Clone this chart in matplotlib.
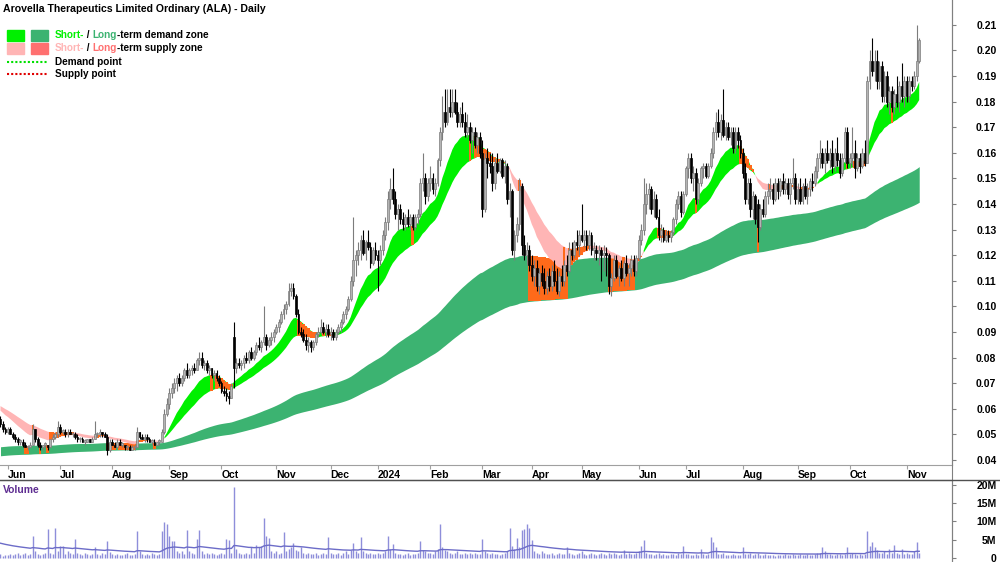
import numpy as np
import matplotlib
matplotlib.use('Agg')
import matplotlib.pyplot as plt
from matplotlib.patches import Rectangle
from matplotlib.lines import Line2D

plt.rcParams['font.family'] = ['Liberation Sans', 'DejaVu Sans']

# ALA daily bars, 29 May 2023 - 8 Nov 2024, prices in tenths of a cent
opens = [56, 54, 52,
    51, 52, 50, 49, 48, 47, 47, 46, 45, 45, 46, 52, 48, 46, 45, 46, 46, 45, 48, 49, 50,
    53, 51, 51, 50, 51, 50, 50, 49, 48, 48, 47, 47, 48, 47, 48, 50, 50, 51, 50, 49, 44,
    47, 46, 45, 47, 46, 46, 45, 45, 44, 45, 45, 51, 49, 48, 49, 48, 47, 47, 46, 47, 47, 51, 58,
    62, 66, 68, 70, 72, 70, 72, 75, 73, 75, 76, 75, 79, 80, 77, 78, 75, 76, 73, 74, 72,
    70, 67, 66, 65, 64, 88, 76, 78, 77, 78, 80, 79, 82, 80, 82, 85, 84, 86, 88, 85, 87, 88,
    90, 92, 94, 97, 99, 101, 106, 107, 104, 97, 90, 89, 87, 85, 86, 84, 86, 89, 90, 92, 90, 91,
    89, 90, 88, 90, 92, 94, 97, 99, 103, 110, 118, 120, 122, 126, 121, 125, 123, 117, 122,
    120, 118, 122, 128, 133, 142, 146, 142, 136, 138, 134, 132, 135, 132, 135, 131, 135, 136, 148, 150, 143,
    148, 150, 146, 148, 157, 168, 176, 172, 178, 176, 180, 176, 172, 175, 172, 168, 170, 165, 168, 163, 166,
    160, 138, 158, 156, 155, 148, 156, 153, 157, 151, 155, 142, 145, 122, 128, 132, 147, 124, 120, 122,
    116, 112, 115, 108, 113, 110, 107, 112, 108, 114, 110, 106, 112, 110, 116, 114, 122, 120, 125, 124,
    128, 126, 128, 124, 128, 122, 122, 121, 122, 120, 121, 120, 108, 111, 118, 112, 115, 111, 117, 113, 115, 118, 114,
    119, 126, 130, 140, 144, 146, 138, 142, 135, 128, 130, 126, 128, 127, 129, 134, 140, 143, 137,
    144, 154, 158, 150, 152, 142, 148, 154, 155, 151, 155, 160, 168, 172, 168, 173, 167, 170, 166, 168, 162, 168, 165,
    160, 152, 142, 148, 138, 143, 140, 131, 138, 136, 143, 145, 146, 142, 148, 145, 149, 146, 148, 144, 148, 150,
    142, 146, 141, 147, 143, 146, 149, 148, 153, 158, 160, 156, 160, 157, 160, 155, 160, 157, 152, 158, 168,
    156, 158, 160, 154, 158, 155, 160, 156, 188, 196, 192, 196, 188, 194, 182, 190, 180, 184, 178, 183, 180, 186, 182,
    188, 182, 188, 186, 190, 196]
highs = [57, 55, 53,
    53, 53, 51, 50, 49, 48, 48, 47, 46, 47, 54, 52, 49, 47, 46, 47, 46, 48, 50, 51, 55,
    54, 52, 52, 52, 52, 51, 51, 50, 49, 49, 48, 48, 48, 49, 55, 51, 52, 51, 51, 50, 48,
    48, 47, 48, 48, 47, 46, 46, 46, 46, 46, 53, 51, 50, 50, 50, 49, 48, 48, 47, 48, 52, 60, 64,
    68, 70, 72, 73, 74, 73, 76, 78, 76, 77, 78, 80, 82, 82, 79, 79, 77, 76, 75, 75, 73,
    71, 69, 68, 67, 70, 94, 80, 80, 79, 81, 82, 83, 84, 83, 86, 88, 87, 100, 89, 88, 90, 91,
    93, 95, 98, 101, 102, 109, 109, 109, 105, 99, 92, 91, 89, 88, 87, 87, 90, 92, 95, 94, 93, 93,
    92, 91, 91, 93, 95, 98, 100, 104, 112, 135, 122, 125, 128, 130, 126, 130, 125, 123, 125,
    122, 124, 130, 135, 145, 150, 154, 145, 140, 140, 137, 136, 138, 136, 136, 136, 138, 150, 160, 152, 150,
    155, 152, 150, 158, 170, 182, 185, 185, 185, 185, 185, 180, 178, 180, 176, 175, 172, 170, 170, 168, 168,
    165, 160, 162, 160, 160, 158, 160, 158, 158, 157, 156, 148, 146, 130, 135, 150, 148, 128, 125, 124,
    120, 118, 118, 115, 116, 115, 114, 115, 116, 118, 115, 114, 116, 118, 120, 125, 125, 126, 130, 130,
    140, 130, 130, 130, 129, 125, 124, 124, 123, 124, 123, 121, 113, 120, 120, 116, 118, 118, 120, 117, 120, 120, 120,
    128, 132, 150, 148, 148, 147, 145, 144, 138, 132, 131, 130, 130, 130, 135, 142, 145, 145, 145,
    155, 160, 160, 155, 154, 150, 155, 156, 156, 156, 162, 170, 176, 177, 175, 185, 172, 172, 170, 170, 170, 170, 167,
    162, 156, 150, 150, 145, 144, 142, 140, 142, 145, 148, 150, 148, 150, 150, 150, 152, 150, 150, 150, 158, 152,
    148, 150, 148, 150, 148, 150, 152, 155, 160, 165, 162, 162, 165, 162, 165, 162, 166, 160, 160, 170, 170,
    160, 170, 165, 160, 160, 162, 165, 190, 200, 205, 200, 200, 196, 196, 192, 192, 186, 186, 185, 190, 188, 195, 190,
    190, 190, 190, 192, 210, 205]
lows = [53, 51, 50,
    50, 50, 48, 47, 46, 46, 45, 45, 44, 45, 46, 47, 45, 44, 44, 45, 44, 45, 47, 48, 49,
    50, 50, 49, 49, 50, 49, 48, 47, 47, 47, 46, 47, 47, 47, 48, 49, 49, 49, 49, 42, 43,
    46, 45, 45, 46, 45, 44, 44, 44, 44, 44, 45, 48, 48, 47, 47, 47, 46, 46, 46, 46, 47, 50, 57,
    60, 64, 66, 67, 69, 69, 71, 72, 72, 73, 74, 75, 77, 76, 75, 74, 73, 72, 71, 71, 69,
    66, 65, 63, 62, 64, 68, 74, 76, 75, 76, 78, 78, 79, 79, 81, 83, 82, 85, 83, 84, 85, 86,
    89, 90, 93, 95, 97, 100, 104, 103, 96, 89, 88, 86, 83, 82, 82, 83, 85, 88, 89, 89, 88, 88,
    87, 87, 87, 89, 90, 93, 95, 98, 102, 108, 112, 116, 118, 120, 118, 122, 115, 116, 118,
    106, 116, 120, 126, 130, 138, 140, 134, 130, 132, 130, 130, 131, 130, 130, 130, 132, 135, 145, 140, 141,
    145, 144, 143, 147, 155, 165, 170, 171, 174, 174, 175, 170, 170, 170, 166, 166, 164, 160, 162, 160, 158,
    135, 137, 150, 152, 145, 146, 152, 152, 150, 148, 140, 135, 120, 118, 125, 130, 120, 118, 116, 114,
    110, 108, 106, 105, 108, 105, 105, 106, 106, 108, 105, 104, 108, 108, 112, 113, 118, 119, 122, 120,
    125, 123, 122, 122, 120, 118, 118, 116, 110, 114, 112, 105, 104, 110, 111, 108, 110, 108, 112, 108, 112, 112, 112,
    118, 124, 128, 136, 138, 136, 135, 134, 126, 125, 125, 125, 125, 125, 128, 132, 138, 135, 136,
    143, 150, 148, 145, 140, 140, 147, 150, 150, 150, 154, 158, 165, 166, 165, 166, 165, 165, 163, 160, 160, 162, 158,
    150, 140, 140, 135, 134, 132, 125, 130, 135, 135, 140, 142, 140, 141, 142, 143, 144, 144, 142, 140, 146, 140,
    140, 140, 140, 142, 140, 143, 145, 147, 150, 154, 154, 152, 156, 154, 152, 153, 155, 150, 151, 156, 154,
    154, 155, 150, 153, 152, 154, 155, 156, 185, 190, 188, 185, 185, 180, 180, 178, 175, 176, 175, 178, 176, 180, 178,
    180, 180, 184, 185, 188, 195]
closes = [54, 52, 51,
    52, 50, 49, 48, 47, 47, 46, 45, 45, 46, 52, 48, 46, 45, 46, 46, 45, 48, 49, 50, 53,
    51, 51, 50, 51, 50, 50, 49, 48, 48, 47, 47, 48, 47, 48, 50, 50, 51, 50, 49, 44, 47,
    46, 45, 47, 46, 46, 45, 45, 44, 45, 45, 51, 49, 48, 49, 48, 47, 47, 46, 47, 47, 51, 58, 62,
    66, 68, 70, 72, 70, 72, 75, 73, 75, 76, 75, 79, 80, 77, 78, 75, 76, 73, 74, 72, 70,
    67, 66, 65, 64, 69, 76, 78, 77, 78, 80, 79, 82, 80, 82, 85, 84, 86, 88, 85, 87, 88, 90,
    92, 94, 97, 99, 101, 106, 107, 104, 97, 90, 89, 87, 85, 86, 84, 86, 89, 90, 92, 90, 91, 89,
    90, 88, 90, 92, 94, 97, 99, 103, 110, 118, 120, 122, 126, 121, 125, 123, 117, 122, 120,
    118, 122, 128, 133, 142, 146, 142, 136, 138, 134, 132, 135, 132, 135, 131, 135, 136, 148, 150, 143, 148,
    150, 146, 148, 157, 168, 176, 172, 178, 176, 180, 176, 172, 175, 172, 168, 170, 165, 168, 163, 166, 160,
    138, 158, 156, 155, 148, 156, 153, 157, 151, 155, 142, 145, 122, 128, 132, 147, 124, 120, 122, 116,
    112, 115, 108, 113, 110, 107, 112, 108, 114, 110, 106, 112, 110, 116, 114, 122, 120, 125, 124, 128,
    126, 128, 124, 128, 122, 122, 121, 122, 120, 121, 120, 108, 111, 118, 112, 115, 111, 117, 113, 115, 118, 114, 119,
    126, 130, 140, 144, 146, 138, 142, 135, 128, 130, 126, 128, 127, 129, 134, 140, 143, 137, 144,
    154, 158, 150, 152, 142, 148, 154, 155, 151, 155, 160, 168, 172, 168, 173, 167, 170, 166, 168, 162, 168, 165, 160,
    152, 142, 148, 138, 143, 134, 131, 138, 136, 143, 145, 146, 142, 148, 145, 149, 146, 148, 144, 148, 150, 142,
    146, 141, 147, 143, 146, 149, 148, 153, 158, 160, 156, 160, 157, 160, 155, 160, 157, 152, 158, 168, 156,
    158, 160, 154, 158, 155, 160, 156, 188, 196, 192, 196, 188, 194, 182, 190, 180, 184, 178, 183, 180, 186, 182, 188,
    182, 188, 186, 190, 196, 204]
# volume in units of 100k shares
volumes = [10, 6, 8,
    9, 12, 7, 10, 15, 8, 11, 14, 9, 10, 60, 18, 12, 8, 10, 14, 79, 15, 10, 81, 20,
    33, 32, 12, 18, 15, 10, 51, 14, 12, 9, 15, 11, 8, 10, 31, 12, 9, 14, 11, 47, 16,
    10, 8, 12, 9, 7, 11, 14, 9, 8, 12, 74, 18, 10, 8, 12, 9, 14, 10, 8, 12, 74, 98, 92,
    60, 47, 47, 20, 15, 18, 12, 77, 20, 15, 12, 53, 77, 18, 12, 15, 10, 14, 12, 9, 11,
    14, 12, 52, 49, 15, 194, 25, 14, 12, 10, 15, 12, 29, 14, 35, 30, 33, 110, 60, 54, 20, 15,
    18, 12, 15, 72, 20, 25, 30, 42, 22, 18, 29, 15, 12, 14, 10, 12, 15, 9, 11, 14, 12, 57,
    15, 10, 12, 14, 9, 15, 18, 12, 22, 40, 20, 15, 57, 18, 14, 12, 15, 10, 12,
    14, 12, 15, 20, 61, 25, 38, 15, 12, 10, 9, 12, 14, 8, 10, 12, 15, 47, 22, 18, 14,
    15, 12, 18, 25, 92, 30, 22, 18, 15, 12, 14, 18, 12, 10, 14, 12, 15, 11, 13, 10, 12,
    51, 20, 15, 12, 14, 10, 12, 9, 11, 14, 18, 81, 33, 25, 54, 30, 77, 79, 92, 81,
    49, 20, 15, 12, 18, 14, 10, 12, 15, 9, 11, 14, 12, 10, 31, 15, 12, 9, 11, 14,
    18, 12, 9, 10, 14, 11, 8, 12, 15, 10, 9, 13, 11, 14, 10, 9, 12, 22, 10, 14, 12, 11, 15,
    20, 33, 49, 15, 12, 10, 9, 12, 14, 8, 10, 9, 7, 10, 12, 9, 14, 11, 33,
    12, 10, 8, 9, 11, 7, 24, 10, 8, 12, 58, 45, 29, 12, 10, 15, 9, 8, 7, 10, 9, 8, 7,
    29, 12, 10, 14, 9, 11, 13, 8, 9, 10, 7, 8, 9, 6, 8, 7, 9, 10, 8, 7, 12, 9,
    8, 10, 7, 9, 11, 8, 9, 12, 15, 14, 31, 18, 12, 10, 9, 8, 10, 12, 9, 10, 29,
    12, 15, 10, 9, 11, 8, 12, 75, 33, 45, 29, 22, 15, 14, 18, 12, 25, 15, 36, 14, 12, 24, 10,
    15, 12, 10, 18, 45, 14]

month_starts = [3, 24, 45, 68, 89, 111, 133, 152, 173, 194, 214, 234, 257, 276, 299, 321, 342, 365]
month_labels = ['Jun', 'Jul', 'Aug', 'Sep', 'Oct', 'Nov', 'Dec', '2024', 'Feb', 'Mar',
                'Apr', 'May', 'Jun', 'Jul', 'Aug', 'Sep', 'Oct', 'Nov']
price_ticks = [0.04, 0.05, 0.06, 0.07, 0.08, 0.09, 0.10, 0.11, 0.12, 0.13,
               0.14, 0.15, 0.16, 0.17, 0.18, 0.19, 0.20, 0.21]
volume_ticks = [0, 5e6, 10e6, 15e6, 20e6]
volume_tick_labels = ['0', '5M', '10M', '15M', '20M']

# zone averages: (span, starting level at the left edge)
short_fast, short_slow = (15, 0.0600), (30, 0.0615)
long_fast, long_slow = (140, 0.0450), (230, 0.0415)
vol_avg = (40, 4.2e6)

GREEN = '#00F000'
DARK_GREEN = '#3CB371'
PINK = '#FFB5B5'
RED = '#FF7070'
ORANGE = '#FF6A1A'

o = np.array(opens) / 1000
h = np.array(highs) / 1000
l = np.array(lows) / 1000
c = np.array(closes) / 1000
v = np.array(volumes) * 1e5
x = np.arange(len(c))
assert len(o) == len(h) == len(l) == len(c) == len(v) == 371


def ema(values, span, start):
    k = 2 / (span + 1)
    out = []
    prev = start
    for val in values:
        prev += k * (val - prev)
        out.append(prev)
    return np.array(out)


W, H = 1000, 562
fig = plt.figure(figsize=(W / 100, H / 100), dpi=100)
ax = fig.add_axes([0, 97 / H, 952 / W, 465 / H])
vax = fig.add_axes([0, 0, 952 / W, 82 / H])


def draw_zone(fast, slow, up_col, down_col, z):
    f = ema(c, *fast)
    s = ema(c, *slow)
    top = np.maximum(f, s)
    bot = np.minimum(f, s)
    up = f >= s
    hit = np.where(up, c < top, c > bot)
    up_ext = up | np.r_[False, up[:-1]]
    down_ext = ~up | np.r_[False, ~up[:-1]]
    ax.fill_between(x, bot, top, where=up_ext, color=up_col, linewidth=0, zorder=z)
    ax.fill_between(x, bot, top, where=down_ext, color=down_col, linewidth=0, zorder=z)
    # orange blocks drawn bar by bar
    xs = np.repeat(x, 2) + np.tile([-0.5, 0.5], len(x))
    ax.fill_between(xs, np.repeat(bot, 2), np.repeat(top, 2), where=np.repeat(hit, 2),
                    color=ORANGE, linewidth=0, zorder=z + 0.1)


draw_zone(long_fast, long_slow, DARK_GREEN, RED, 1)
draw_zone(short_fast, short_slow, GREEN, PINK, 1.5)

# candles
rising = c >= o
wick_col = np.where(rising, '#7C7C7C', '#000000')
ax.vlines(x, l, h, colors=wick_col, linewidth=0.8, zorder=3)
body_lo = np.minimum(o, c)
body_h = np.maximum(np.abs(c - o), 0.0006)
ax.bar(x, body_h, bottom=body_lo, width=0.75, color=np.where(rising, '#B4B4B4', '#000000'),
       edgecolor=wick_col, linewidth=0.5, zorder=4)

ax.set_xlim(-0.2, 383.2)
ax.set_ylim(0.038, 0.2197)
for side in ['left', 'top']:
    ax.spines[side].set_visible(False)
ax.spines['right'].set_color('#808080')
ax.spines['bottom'].set_color('#A0A0A0')
ax.yaxis.tick_right()
ax.set_yticks(price_ticks, [f'{t:.2f}' for t in price_ticks])
ax.tick_params(axis='y', direction='out', length=3, color='#808080', labelsize=7.5, pad=29)
for lbl in ax.get_yticklabels():
    lbl.set_horizontalalignment('right')
    lbl.set_fontweight('bold')
ax.set_xticks(month_starts, month_labels)
ax.tick_params(axis='x', direction='out', length=3, color='#A0A0A0', labelsize=7.5, pad=0.5)
for lbl in ax.get_xticklabels():
    lbl.set_horizontalalignment('left')
    lbl.set_fontweight('bold')

# volume panel
vax.vlines(x, 0, v, colors='#8E8EDA', linewidth=1.0)
vax.plot(x, ema(v, *vol_avg), color='#6C6CC8', linewidth=1.0)
vax.set_xlim(-0.2, 383.2)
vax.set_ylim(-1.1e6, 21.37e6)
vax.set_xticks([])
for side in ['left', 'bottom']:
    vax.spines[side].set_visible(False)
vax.spines['right'].set_color('#808080')
vax.spines['top'].set_color('#505050')
vax.yaxis.tick_right()
vax.set_yticks(volume_ticks, volume_tick_labels)
vax.tick_params(axis='y', direction='out', length=3, color='#808080', labelsize=7.5, pad=29)
for lbl in vax.get_yticklabels():
    lbl.set_horizontalalignment('right')
    lbl.set_fontweight('bold')

fig.add_artist(Line2D([952 / W, 952 / W], [0, 1], color='#808080', linewidth=0.8))
fig.add_artist(Line2D([0, 1], [1 - 480 / H] * 2, color='#505050', linewidth=1.0))


def fx(px):
    return px / W


def fy(py):
    return 1 - py / H


fig.text(fx(3), fy(9), 'Arovella Therapeutics Limited Ordinary (ALA) - Daily',
         fontsize=7.6, fontweight='bold', va='center')
fig.text(fx(3), fy(490), 'Volume', fontsize=7.5, fontweight='bold', color='#5E2D91', va='center')

renderer = fig.canvas.get_renderer()


def rich_text(x_px, y_px, parts):
    xp = x_px
    for s, col in parts:
        t = fig.text(fx(xp), fy(y_px), s, color=col, fontsize=7.2, fontweight='bold',
                     va='center', ha='left')
        xp += t.get_window_extent(renderer).width


for col, x0, y0 in [(GREEN, 7, 30), (DARK_GREEN, 31, 30), (PINK, 7, 43), (RED, 31, 43)]:
    fig.add_artist(Rectangle((fx(x0), fy(y0 + 11)), 17 / W, 11 / H, color=col,
                             transform=fig.transFigure))
rich_text(55, 35, [('Short-', GREEN), (' / ', 'black'), ('Long', DARK_GREEN),
                   ('-term demand zone', 'black')])
rich_text(55, 48, [('Short-', PINK), (' / ', 'black'), ('Long', RED),
                   ('-term supply zone', 'black')])
fig.add_artist(Line2D([fx(7), fx(48)], [fy(62)] * 2, color='#00E000', linewidth=1.5,
                      linestyle=(0, (1, 1))))
fig.add_artist(Line2D([fx(7), fx(48)], [fy(74)] * 2, color='#E00000', linewidth=1.5,
                      linestyle=(0, (1, 1))))
fig.text(fx(55), fy(62), 'Demand point', fontsize=7.2, fontweight='bold', va='center')
fig.text(fx(55), fy(74), 'Supply point', fontsize=7.2, fontweight='bold', va='center')

fig.savefig('out.png', dpi=100)
